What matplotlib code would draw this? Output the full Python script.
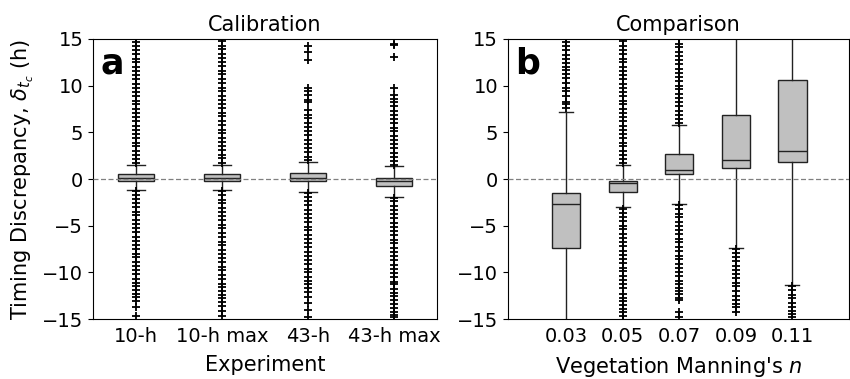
"""Timing discrepancy box plots: calibration runs and vegetation roughness comparison."""

from matplotlib import pyplot as plt

plt.rcParams["font.family"] = ["DejaVu Sans"]

# Panel a: calibration experiments
cal_labels = ["10-h", "10-h max", "43-h", "43-h max"]
cal_q1 = [-0.2, -0.2, -0.18, -0.71]
cal_med = [0.1, 0.1, 0.15, -0.2]
cal_q3 = [0.5, 0.5, 0.68, 0.14]
cal_whislo = [-1.18, -1.18, -1.36, -1.9]
cal_whishi = [1.53, 1.55, 1.85, 1.39]
cal_fliers = [
    [1.7, 2.1, 2.6, 3.0, 3.5, 3.9, 4.4, 4.8, 5.3, 5.7, 6.2, 6.6, 7.1, 7.5, 8.0, 8.4,
     8.9, 9.3, 9.8, 10.2, 10.7, 11.1, 11.6, 12.0, 12.5, 12.9, 13.4, 13.8, 14.3, 14.7, 15.2,
     -1.3, -1.7, -2.1, -2.6, -3.0, -3.5, -3.9, -4.4, -4.8, -5.3, -5.7, -6.2, -6.6, -7.1,
     -7.5, -8.0, -8.4, -8.9, -9.3, -9.8, -10.2, -10.7, -11.1, -11.5, -11.9, -12.3, -12.6,
     -13.1, -13.7, -14.7],
    [1.7, 2.2, 2.6, 3.1, 3.5, 4.0, 4.4, 4.9, 5.3, 5.8, 6.2, 6.7, 7.1, 7.6, 8.0, 8.5,
     8.9, 9.4, 9.8, 10.3, 10.7, 11.2, 11.6, 12.1, 12.5, 13.0, 13.4, 13.9, 14.3, 14.8, 15.2,
     -1.3, -1.7, -2.2, -2.6, -3.1, -3.5, -4.0, -4.4, -4.9, -5.3, -5.8, -6.2, -6.7, -7.1,
     -7.6, -8.0, -8.5, -8.9, -9.4, -9.8, -10.3, -10.7, -11.2, -11.6, -12.0, -12.4, -12.8,
     -13.2, -13.6, -14.1, -14.7],
    [2.0, 2.4, 2.9, 3.3, 3.8, 4.2, 4.7, 5.1, 5.6, 6.0, 6.5, 6.9, 7.4, 8.2, 8.5, 9.0,
     9.4, 9.8, 12.8, 13.6, 14.2,
     -1.5, -1.9, -2.4, -2.8, -3.3, -3.7, -4.2, -4.6, -5.1, -5.5, -6.0, -6.4, -6.9, -7.3,
     -7.8, -8.2, -8.7, -9.1, -9.6, -10.0, -10.5, -10.9, -11.3, -11.7, -12.1, -12.6,
     -13.3, -14.0, -14.8],
    [1.5, 1.9, 2.4, 2.8, 3.3, 3.7, 4.2, 4.6, 5.1, 5.5, 6.0, 6.4, 6.9, 7.3, 7.8, 8.2,
     8.6, 9.0, 9.8, 13.1, 14.4, 14.5,
     -2.0, -2.4, -2.9, -3.3, -3.8, -4.2, -4.7, -5.1, -5.6, -6.0, -6.5, -6.9, -7.4, -7.8,
     -8.3, -8.7, -9.2, -9.6, -10.1, -10.5, -11.0, -11.3, -11.8, -12.2, -12.5, -13.0,
     -13.4, -13.8, -14.2, -14.6, -14.8],
]

# Panel b: comparison across vegetation Manning's n
veg_labels = ["0.03", "0.05", "0.07", "0.09", "0.11"]
veg_q1 = [-7.36, -1.36, 0.5, 1.14, 1.82]
veg_med = [-2.68, -0.46, 0.96, 2.0, 2.96]
veg_q3 = [-1.47, -0.18, 2.64, 6.82, 10.6]
veg_whislo = [-20.0, -3.04, -2.68, -7.36, -11.36]
veg_whishi = [7.18, 1.5, 5.82, 20.0, 20.0]
veg_fliers = [
    [7.6, 8.0, 8.3, 8.9, 9.4, 9.8, 10.3, 10.8, 11.2, 11.7, 12.0, 12.4, 12.9, 13.3,
     13.8, 14.2, 14.7, 15.2],
    [1.7, 2.1, 2.6, 3.0, 3.5, 3.9, 4.4, 4.8, 5.3, 5.7, 6.2, 6.6, 7.1, 7.5, 8.0, 8.4,
     8.9, 9.3, 9.8, 10.2, 10.7, 11.1, 11.6, 12.0, 12.5, 12.9, 13.4, 13.8, 14.3, 14.8,
     -3.2, -3.6, -4.1, -4.5, -5.0, -5.4, -5.9, -6.3, -6.8, -7.2, -7.7, -8.1, -8.6, -9.0,
     -9.5, -9.9, -10.4, -10.8, -11.3, -11.7, -12.3, -12.8, -13.1, -13.5, -13.9, -14.3,
     -14.7, -15.1],
    [6.0, 6.4, 6.9, 7.3, 7.8, 8.2, 8.7, 9.1, 9.6, 10.0, 10.5, 10.9, 11.4, 11.8, 12.3,
     12.7, 13.2, 13.6, 14.1, 14.5, 15.0,
     -2.8, -3.2, -3.7, -4.1, -4.6, -5.0, -5.5, -5.9, -6.4, -6.8, -7.3, -7.7, -8.2, -8.6,
     -9.1, -9.5, -10.0, -10.4, -10.9, -11.3, -11.7, -12.0, -12.3, -12.7, -13.0,
     -14.3, -14.8],
    [-7.5, -7.9, -8.4, -8.8, -9.3, -9.7, -10.2, -10.6, -11.1, -11.5, -12.0, -12.5,
     -13.0, -13.4, -13.7, -14.2],
    [-11.5, -11.9, -12.4, -12.8, -13.3, -13.7, -14.1, -14.5, -14.8],
]

BOX_FACE = "#c0c0c0"
EDGE = "#222222"
REF_LINE = "#808080"


def make_stats(labels, q1, med, q3, whislo, whishi, fliers):
    """Build the stats dicts that Axes.bxp expects."""
    return [
        {"label": lab, "q1": a, "med": m, "q3": b, "whislo": lo, "whishi": hi, "fliers": fl}
        for lab, a, m, b, lo, hi, fl in zip(labels, q1, med, q3, whislo, whishi, fliers)
    ]


def draw_panel(ax, stats, widths, letter, title, xlabel):
    ax.bxp(
        stats,
        positions=range(1, len(stats) + 1),
        widths=widths,
        patch_artist=True,
        boxprops={"facecolor": BOX_FACE, "edgecolor": EDGE, "linewidth": 1.0},
        medianprops={"color": EDGE, "linewidth": 1.0},
        whiskerprops={"color": EDGE, "linewidth": 1.0},
        capprops={"color": EDGE, "linewidth": 1.0},
        flierprops={"marker": "+", "markeredgecolor": "black", "markersize": 5.5,
                    "markeredgewidth": 1.3},
    )
    ax.axhline(0, color=REF_LINE, linestyle="--", linewidth=0.9, dashes=(4, 2), zorder=4)
    ax.set_ylim(-15, 15)
    ax.set_yticks([-15, -10, -5, 0, 5, 10, 15])
    ax.tick_params(labelsize=14)
    # no visible x tick marks in the original
    ax.tick_params(axis="x", length=0, pad=6)
    ax.set_title(title, fontsize=15, pad=6)
    ax.set_xlabel(xlabel, fontsize=15, labelpad=6)
    ax.text(0.022, 0.875, letter, transform=ax.transAxes, fontsize=25,
            fontweight="bold", va="baseline", ha="left")


fig = plt.figure(figsize=(8.5, 3.79), dpi=100)
ax_a = fig.add_axes((0.1094, 0.1583, 0.4047, 0.7388))
ax_b = fig.add_axes((0.5976, 0.1583, 0.4012, 0.7388))

draw_panel(ax_a, make_stats(cal_labels, cal_q1, cal_med, cal_q3, cal_whislo, cal_whishi, cal_fliers),
           0.41, "a", "Calibration", "Experiment")
ax_a.set_xlim(0.5, 4.5)
ax_a.set_ylabel(r"Timing Discrepancy, $\delta_{t_c}$ (h)", fontsize=15)

draw_panel(ax_b, make_stats(veg_labels, veg_q1, veg_med, veg_q3, veg_whislo, veg_whishi, veg_fliers),
           0.5, "b", "Comparison", "Vegetation Manning's $n$")
ax_b.set_xlim(-0.03, 6.0)

fig.savefig("out.png", dpi=100)
